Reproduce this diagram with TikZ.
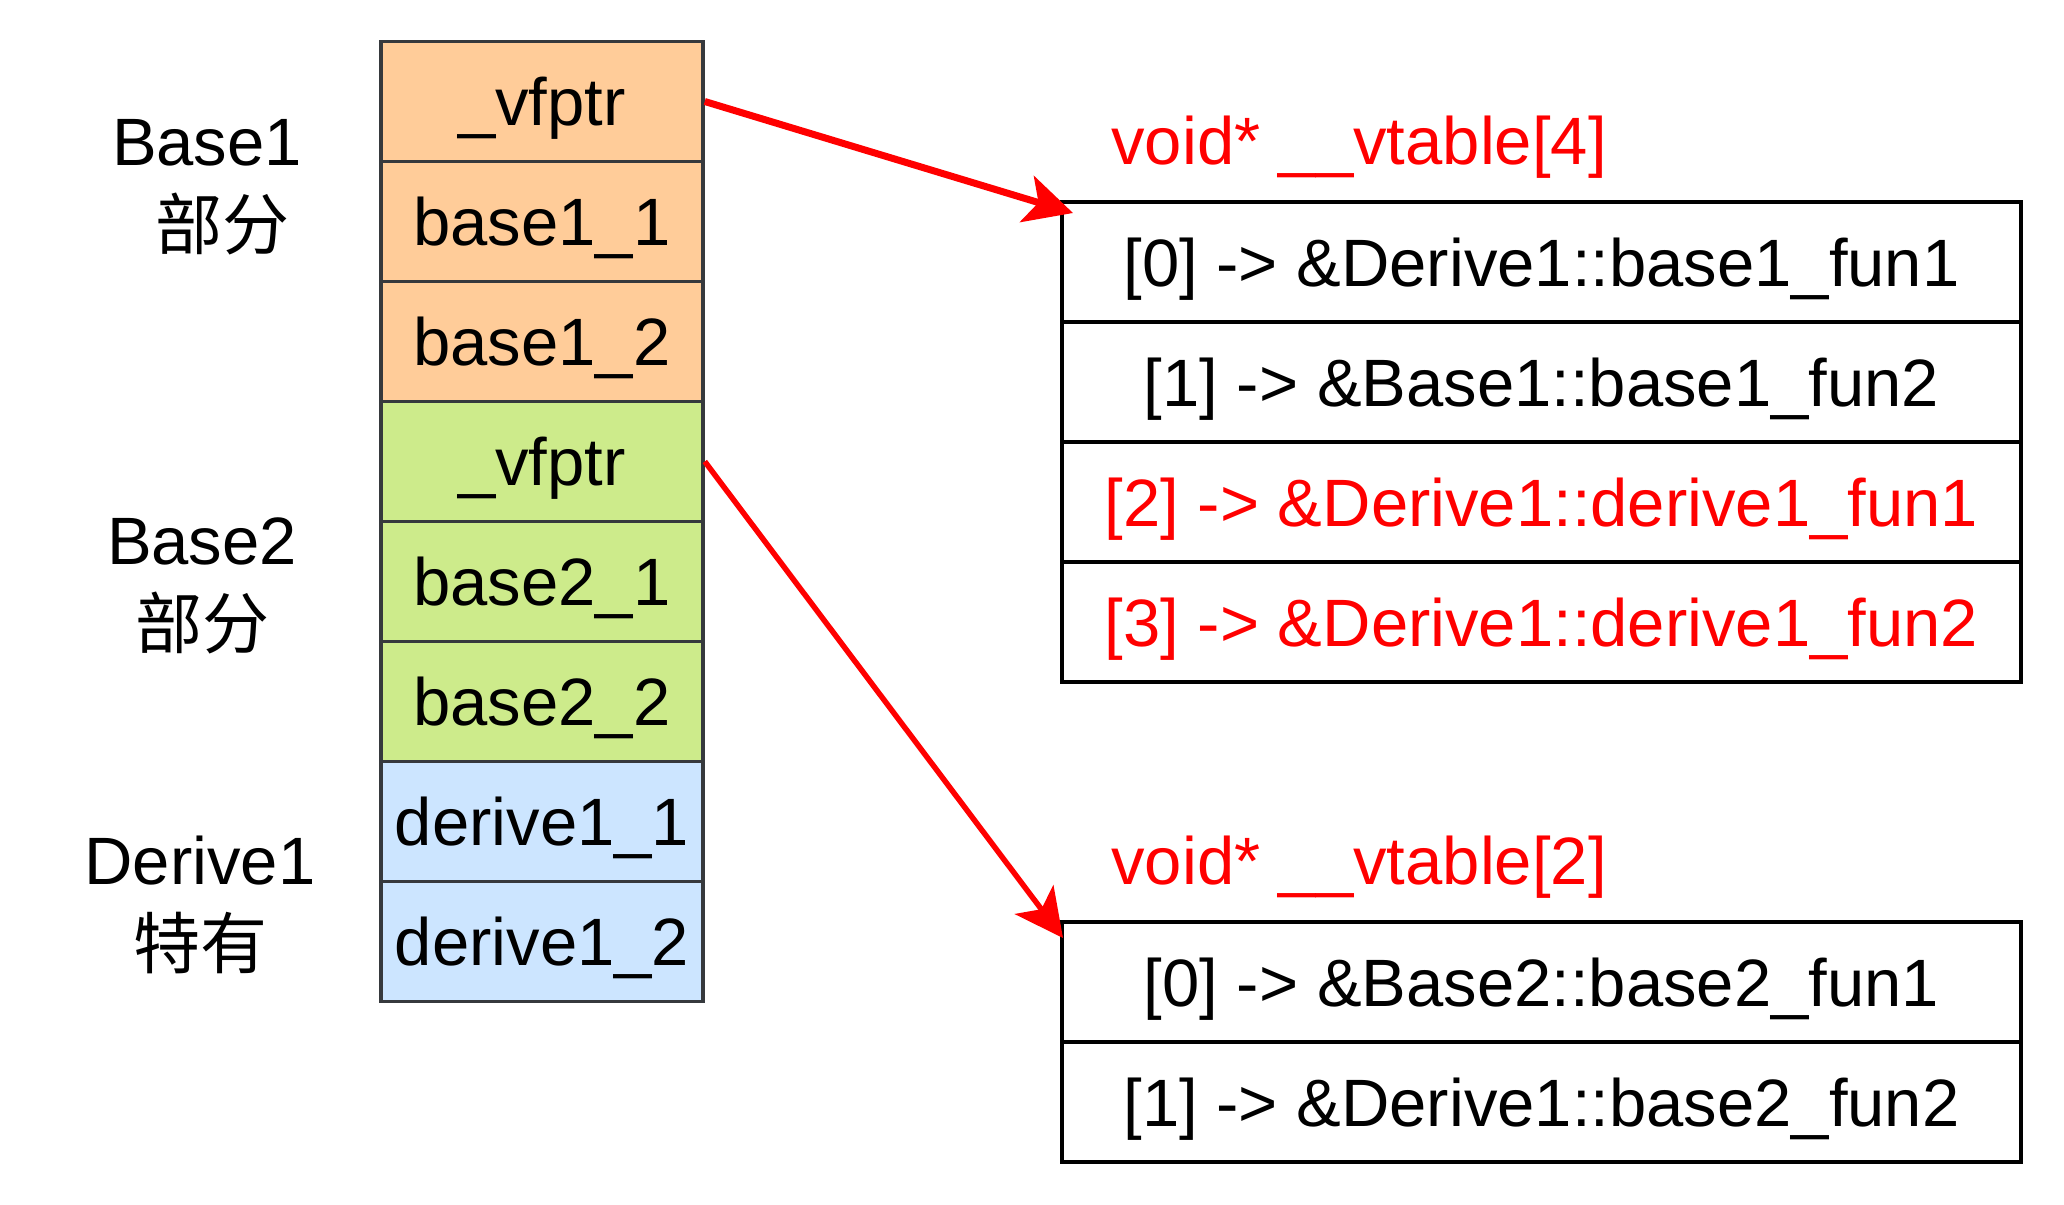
\documentclass[tikz,border=0pt]{standalone}
\usepackage{fontspec}
\setmainfont{Liberation Sans}
\newfontfamily\cjk{Noto Sans CJK SC}
\usetikzlibrary{arrows.meta}
\definecolor{memA}{HTML}{FFCC99}
\definecolor{memB}{HTML}{CDEB8B}
\definecolor{memC}{HTML}{CCE5FF}
\definecolor{memline}{HTML}{36393D}
\definecolor{hot}{HTML}{FF0000}
\begin{document}
\begin{tikzpicture}[x=0.5pt,y=-0.5pt,
  txt/.style={font=\fontsize{33.5pt}{42pt}\selectfont},
  memcell/.style={txt, draw=memline, line width=1.75pt, minimum width=161pt, minimum height=60pt, inner sep=0pt, text height=24pt, text depth=0pt},
  vcell/.style={txt, draw=black, line width=1.75pt, minimum width=479.5pt, minimum height=60pt, inner sep=0pt, text height=24pt, text depth=0pt},
  part/.style={txt, align=center, anchor=base, inner sep=0pt},
  vtitle/.style={txt, text=hot, anchor=base west, inner sep=0pt},
  ptr/.style={draw=hot, -{Stealth[length=24pt,width=24pt,inset=6pt]}}
]
\useasboundingbox (0,0) rectangle (2064,1204);

% memory layout column
\node[memcell, fill=memA] (m1) at (542,101.5) {\_vfptr};
\node[memcell, fill=memA] (m2) at (542,221.5) {base1\_1};
\node[memcell, fill=memA] (m3) at (542,341.5) {base1\_2};
\node[memcell, fill=memB] (m4) at (542,461.5) {\_vfptr};
\node[memcell, fill=memB] (m5) at (542,581.5) {base2\_1};
\node[memcell, fill=memB] (m6) at (542,701.5) {base2\_2};
\node[memcell, fill=memC] (m7) at (542,821.5) {derive1\_1};
\node[memcell, fill=memC] (m8) at (542,941.5) {derive1\_2};

% part labels (anchor = baseline of the last line)
\node[part] (pA) at (207,249) {Base1\\\hspace*{15pt}{\cjk 部分}};
\node[part] (pB) at (202,648) {Base2\\{\cjk 部分}};
\node[part] (pC) at (200,968) {Derive1\\{\cjk 特有}};

% vtable 1
\node[vtitle] (tA) at (1111,164) {void* \_\_vtable[4]};
\node[vcell] (a0) at (1541.5,262) {[0] -> \&Derive1::base1\_fun1};
\node[vcell] (a1) at (1541.5,382) {[1] -> \&Base1::base1\_fun2};
\node[vcell, text=hot] (a2) at (1541.5,502) {[2] -> \&Derive1::derive1\_fun1};
\node[vcell, text=hot] (a3) at (1541.5,622) {[3] -> \&Derive1::derive1\_fun2};

% vtable 2
\node[vtitle] (tB) at (1111,884) {void* \_\_vtable[2]};
\node[vcell] (b0) at (1541.5,982) {[0] -> \&Base2::base2\_fun1};
\node[vcell] (b1) at (1541.5,1102) {[1] -> \&Derive1::base2\_fun2};

% pointers
\coordinate (tipA) at (1073,213);
\coordinate (tipB) at (1063,938);
\draw[ptr, line width=3.5pt] (m1.east) -- (tipA);
\draw[ptr, line width=2.75pt] (m4.east) -- (tipB);
\end{tikzpicture}
\end{document}
